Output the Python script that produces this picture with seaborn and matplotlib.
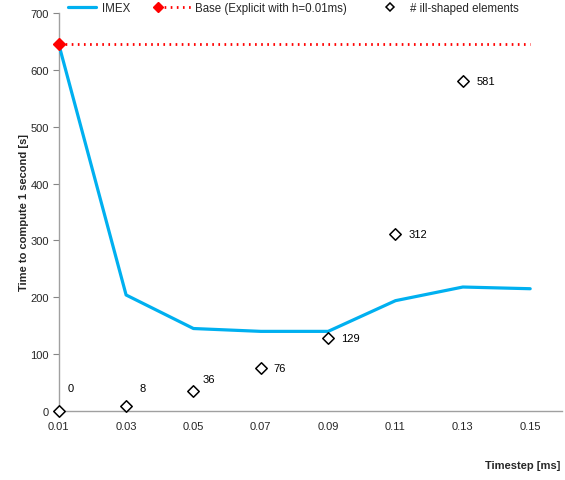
import matplotlib
matplotlib.use("Agg")
import matplotlib.pyplot as plt
import seaborn as sns
import pandas as pd
from matplotlib.lines import Line2D
from matplotlib.legend_handler import HandlerLine2D

timesteps = [0.01, 0.03, 0.05, 0.07, 0.09, 0.11, 0.13, 0.15]
imex_time = [645, 204, 145, 140, 140, 194, 218, 215]
base_time = 645
ill_steps = [0.01, 0.03, 0.05, 0.07, 0.09, 0.11, 0.13]
ill_count = [0, 8, 36, 76, 129, 312, 581]
x_ticks = [0.01, 0.03, 0.05, 0.07, 0.09, 0.11, 0.13, 0.15]
y_ticks = [0, 100, 200, 300, 400, 500, 600, 700]

# label offsets in pixels (dx, dy) for each ill-shaped count
label_offsets = [(9, 23), (13, 18), (9, 12), (13, 0), (13, 0), (13, 0), (14, 0)]


class MarkerAt(HandlerLine2D):
    """Legend line handler that draws its marker at one chosen point only."""

    def __init__(self, index, **kw):
        super().__init__(**kw)
        self.index = index

    def create_artists(self, *args, **kwargs):
        artists = super().create_artists(*args, **kwargs)
        for a in artists:
            if isinstance(a, Line2D):
                a.set_markevery([self.index])
        return artists


sns.set_theme(style="white")
plt.rcParams["font.family"] = ["Liberation Sans", "DejaVu Sans"]
plt.rcParams["font.size"] = 8

fig = plt.figure(figsize=(5.65, 4.81), dpi=100)
ax = fig.add_axes([0.104, 0.1435, 0.891, 0.8275])

imex_df = pd.DataFrame({"t": timesteps, "time": imex_time})
base_df = pd.DataFrame({"t": [timesteps[0], timesteps[-1]], "time": [base_time, base_time]})
ill_df = pd.DataFrame({"t": ill_steps, "n": ill_count})

blue = "#00B0F0"
red = "#FF0000"
dots = (0, (0.6, 1.6))
sns.lineplot(data=imex_df, x="t", y="time", ax=ax, color=blue, linewidth=2.3, zorder=3)
sns.lineplot(data=base_df, x="t", y="time", ax=ax, color=red, linewidth=2.0,
             linestyle=dots, zorder=2)
ax.plot([timesteps[0]], [base_time], marker="D", color=red, markersize=6.5,
        linestyle="none", zorder=5, clip_on=False)
sns.scatterplot(data=ill_df, x="t", y="n", ax=ax, marker="D", s=34, facecolor="white",
                edgecolor="black", linewidth=1.1, zorder=4, clip_on=False)

for x, n, (dx, dy) in zip(ill_steps, ill_count, label_offsets):
    ax.annotate(str(n), (x, n), xytext=(dx, dy), textcoords="offset pixels",
                ha="left", va="center", fontsize=8, color="black")

ax.set_xlim(0.01, 0.1595)
ax.set_ylim(0, 700)
ax.set_xticks(x_ticks)
ax.set_xticklabels([f"{v:.2f}" for v in x_ticks])
ax.set_yticks(y_ticks)
ax.tick_params(axis="y", which="both", left=True, length=4, width=0.8, color="#868686",
               labelsize=8, pad=3)
ax.tick_params(axis="x", bottom=False, labelsize=8, pad=1.5)
for s in ["top", "right"]:
    ax.spines[s].set_visible(False)
for s in ["left", "bottom"]:
    ax.spines[s].set_color("#A0A0A0")
    ax.spines[s].set_linewidth(1.0)

ax.set_xlabel("")
ax.set_ylabel("Time to compute 1 second [s]", fontweight="bold", fontsize=8, labelpad=1)
fig.text(0.991, 0.031, "Timestep [ms]", fontweight="bold", fontsize=8, ha="right", va="center")

imex_handle = Line2D([], [], color=blue, linewidth=2.3)
base_handle = Line2D([], [], color=red, linewidth=2.0, linestyle=dots,
                     marker="D", markersize=5)
ill_handle = Line2D([], [], color="black", marker="D", markerfacecolor="white",
                    markersize=4.3, linestyle="none", markeredgewidth=1.1)
fig.legend([imex_handle, base_handle, ill_handle],
           ["IMEX", "Base (Explicit with h=0.01ms)", "# ill-shaped elements"],
           handler_map={base_handle: MarkerAt(0, marker_pad=0.05), ill_handle: MarkerAt(1)},
           loc="center", bbox_to_anchor=(0.517, 0.981), ncol=3, frameon=False,
           fontsize=8.3, numpoints=3, handlelength=2.95, handletextpad=0.3,
           columnspacing=2.3, borderpad=0, borderaxespad=0)

fig.savefig("out.png", dpi=100)
